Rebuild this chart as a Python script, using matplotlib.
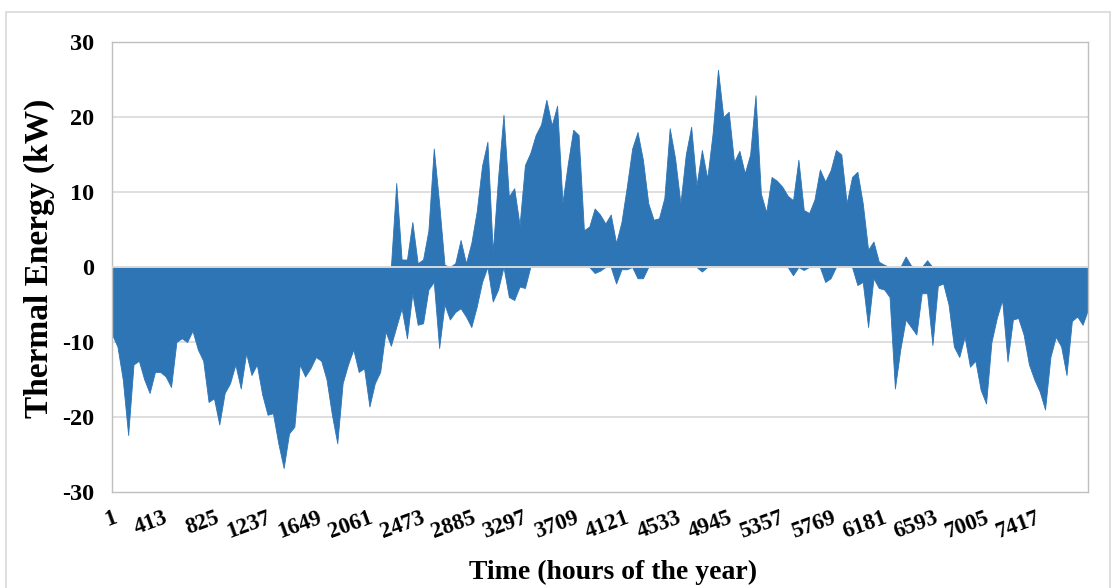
import numpy as np
import matplotlib
matplotlib.use("Agg")
import matplotlib.pyplot as plt
from matplotlib.patches import Rectangle

# ======================
# Data (read off the chart, envelope sampled every ~2 days)
# ======================
N_HOURS = 7830   # number of hourly points on the category axis

# upper envelope (kW), positive side
upper = [
    0, 0, 0, 0, 0, 0, 0, 0, 0, 0,
    0, 0, 0, 0, 0, 0, 0, 0, 0, 0,
    0, 0, 0, 0, 0, 0, 0, 0, 0, 0,
    0, 0, 0, 0, 0, 0, 0, 0, 0, 0,
    0, 0, 0, 0, 0, 0, 0, 0, 0, 0,
    0, 0, 0, 11.2, 1.0, 1.0, 6.0, 0.5, 1.0, 4.9,
    15.8, 8.5, 0.3, 0, 0.5, 3.6, 0.5, 3.2, 7.4, 13.5,
    16.7, 2.0, 12.0, 20.3, 9.4, 10.5, 5.6, 13.6, 15.2, 17.6,
    19.0, 22.3, 18.9, 21.5, 8.6, 13.8, 18.3, 17.6, 4.9, 5.4,
    7.8, 7.0, 5.8, 7.0, 3.2, 6.0, 10.7, 15.8, 18.0, 14.3,
    8.5, 6.3, 6.5, 9.2, 18.5, 14.5, 8.5, 15.0, 18.7, 10.9,
    15.6, 11.8, 17.8, 26.3, 20.0, 20.7, 14.0, 15.5, 12.5, 15.0,
    22.9, 9.8, 7.3, 12.0, 11.5, 10.7, 9.5, 8.9, 14.3, 7.6,
    7.2, 9.0, 13.0, 11.4, 12.9, 15.6, 15.0, 8.5, 12.0, 12.7,
    8.5, 2.3, 3.4, 0.7, 0.3, 0, 0, 0, 1.4, 0.2,
    0, 0, 0.9, 0, 0, 0, 0, 0, 0, 0,
    0, 0, 0, 0, 0, 0, 0, 0, 0, 0,
    0, 0, 0, 0, 0, 0, 0, 0, 0, 0,
    0, 0, 0,
]

# lower envelope (kW), negative side
lower = [
    -9.0, -10.6, -15.0, -22.4, -13.0, -12.5, -15.0, -16.8, -14.0, -14.0,
    -14.6, -16.0, -10.0, -9.5, -10.0, -8.5, -11.0, -12.5, -18.0, -17.5,
    -21.0, -16.8, -15.5, -13.0, -16.2, -11.5, -14.4, -13.0, -17.0, -19.7,
    -19.5, -23.5, -26.8, -22.2, -21.3, -13.0, -14.6, -13.5, -12.0, -12.5,
    -15.0, -19.7, -23.5, -15.5, -13.0, -11.0, -14.0, -13.5, -18.6, -15.5,
    -14.0, -8.6, -10.5, -8.0, -5.5, -9.5, -3.5, -7.7, -7.5, -3.0,
    -2.0, -10.8, -5.0, -7.0, -6.0, -5.5, -6.6, -8.0, -5.3, -2.0,
    0, -4.6, -3.0, 0, -4.0, -4.4, -2.6, -2.8, 0, 0,
    0, 0, 0, 0, 0, 0, 0, 0, 0, 0,
    -0.8, -0.5, 0, 0, -2.2, -0.3, -0.3, 0, -1.5, -1.5,
    0, 0, 0, 0, 0, 0, 0, 0, 0, 0,
    -0.6, 0, 0, 0, 0, 0, 0, 0, 0, 0,
    0, 0, 0, 0, 0, 0, 0, -1.1, 0, -0.4,
    0, 0, 0, -2.0, -1.5, 0, 0, 0, 0, -2.4,
    -2.0, -8.0, -1.5, -2.8, -3.0, -4.0, -16.2, -11.0, -7.0, -8.0,
    -9.0, -3.5, -3.5, -10.4, -2.5, -2.2, -5.0, -10.6, -12.0, -9.3,
    -13.3, -12.5, -16.4, -18.2, -10.0, -6.8, -4.4, -12.6, -7.0, -6.8,
    -9.0, -13.0, -15.0, -16.6, -19.0, -12.0, -9.3, -10.6, -14.4, -7.2,
    -6.6, -7.7, -5.7,
]

x_tick_labels = [1, 413, 825, 1237, 1649, 2061, 2473, 2885, 3297, 3709,
                 4121, 4533, 4945, 5357, 5769, 6181, 6593, 7005, 7417]
y_ticks = [-30, -20, -10, 0, 10, 20, 30]

hours = np.linspace(1, N_HOURS, len(upper))

# ======================
# Plot
# ======================
plt.rcParams["font.family"] = ["Liberation Serif", "DejaVu Serif"]
plt.rcParams["font.weight"] = "bold"

W, H = 1115, 588
fig = plt.figure(figsize=(W / 100, H / 100), dpi=100)
ax = fig.add_axes([112 / W, 1 - 492 / H, 976 / W, 450 / H])

# chart area border
fig.patches.append(Rectangle((6 / W, -0.1), 1104 / W, 1.1 - 12 / H,
                             transform=fig.transFigure, fill=False,
                             edgecolor="#D9D9D9", linewidth=1.2))

blue = "#2E75B6"
ax.fill_between(hours, lower, upper, color=blue, linewidth=0.6,
                edgecolor=blue, zorder=2)

for y in [-20, -10, 10, 20]:
    ax.axhline(y, color="#D9D9D9", linewidth=1.2, zorder=1)
ax.axhline(0, color="#D9D9D9", linewidth=1.4, zorder=3)

ax.set_xlim(0.5, N_HOURS + 0.5)
ax.set_ylim(-30, 30)
ax.set_yticks(y_ticks)
ax.set_yticklabels([str(v) for v in y_ticks], fontsize=17.5, fontweight="bold")
ax.tick_params(axis="y", length=0, pad=13)

ax.set_xticks(x_tick_labels)
ax.set_xticklabels([str(v) for v in x_tick_labels], fontsize=16.5,
                   fontweight="bold", rotation=20, ha="right",
                   rotation_mode="anchor")
ax.tick_params(axis="x", length=0, pad=11)

for side in ["left", "right", "top", "bottom"]:
    ax.spines[side].set_color("#BFBFBF")
    ax.spines[side].set_linewidth(1.0)

fig.text(39 / W, 1 - 258 / H, "Thermal Energy (kW)", rotation=90,
         ha="center", va="center", fontsize=24, fontweight="bold")
fig.text(613 / W, 1 - 572 / H, "Time (hours of the year)",
         ha="center", va="center", fontsize=20, fontweight="bold")

fig.savefig("out.png", dpi=100)
